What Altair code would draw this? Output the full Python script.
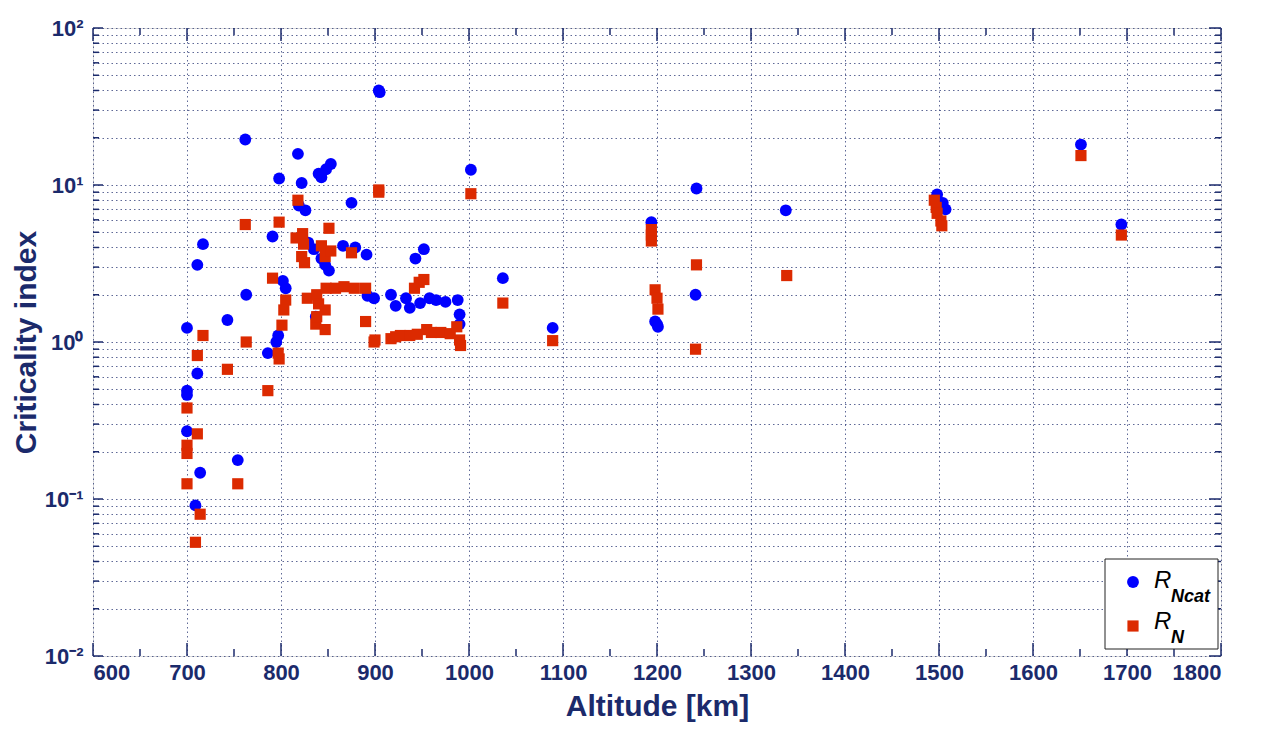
import altair as alt
import pandas as pd

# ---- data ----
alt_ncat = [700, 700, 700, 700, 709, 711, 711, 714, 717, 743, 754, 762, 763, 786, 791,
            795, 797, 798, 802, 805, 818, 819, 822, 826, 829, 837, 840, 843, 848, 853,
            835, 843, 847, 851, 866, 879, 875, 891, 892, 899, 904, 905, 917, 922, 933,
            937, 943, 952, 948, 958, 965, 975, 988, 990, 990, 1002, 1036, 1089, 1194,
            1198, 1200, 1201, 1241, 1242, 1337, 1498, 1504, 1507, 1651, 1694]
r_ncat = [1.23, 0.49, 0.46, 0.27, 0.091, 0.63, 3.1, 0.147, 4.2, 1.38, 0.177, 19.5, 2.0, 0.85, 4.7,
          1.0, 1.1, 11.0, 2.45, 2.2, 15.8, 7.4, 10.3, 6.9, 4.3, 1.45, 11.8, 11.2, 12.6, 13.6,
          3.9, 3.4, 3.1, 2.85, 4.1, 4.0, 7.7, 3.6, 1.97, 1.9, 40.0, 39.0, 2.0, 1.7, 1.9,
          1.65, 3.4, 3.9, 1.77, 1.9, 1.85, 1.8, 1.85, 1.5, 1.3, 12.5, 2.55, 1.23, 5.8,
          1.35, 1.3, 1.25, 2.0, 9.5, 6.9, 8.7, 7.7, 7.0, 18.1, 5.6]

alt_n = [700, 700, 700, 700, 709, 711, 711, 714, 717, 743, 754, 762, 763, 786, 791,
         797, 798, 798, 801, 803, 805, 816, 818, 823, 824, 822, 825, 828, 837, 838,
         838, 840, 843, 847, 847, 847, 848, 851, 853, 858, 867, 875, 878, 890, 890,
         899, 900, 904, 904, 917, 922, 927, 937, 942, 947, 952, 945, 955, 960, 970,
         980, 987, 990, 991, 1002, 1036, 1089, 1194, 1194, 1194, 1198, 1200, 1201, 1241,
         1242, 1338, 1495, 1497, 1498, 1502, 1503, 1651, 1694]
r_n = [0.38, 0.22, 0.195, 0.125, 0.053, 0.82, 0.26, 0.08, 1.1, 0.67, 0.125, 5.6, 1.0, 0.49, 2.55,
       0.85, 0.78, 5.8, 1.28, 1.6, 1.85, 4.6, 8.0, 4.9, 4.2, 3.5, 3.2, 1.9, 1.3, 1.45,
       2.0, 1.75, 4.1, 3.5, 1.6, 1.2, 2.2, 5.3, 3.8, 2.2, 2.25, 3.7, 2.2, 2.2, 1.35,
       1.0, 1.03, 9.3, 9.0, 1.05, 1.08, 1.1, 1.1, 2.2, 2.4, 2.5, 1.12, 1.2, 1.15, 1.15,
       1.13, 1.25, 1.03, 0.95, 8.8, 1.77, 1.02, 5.2, 4.8, 4.4, 2.15, 1.9, 1.62, 0.9,
       3.1, 2.65, 8.0, 7.2, 6.6, 5.9, 5.5, 15.4, 4.8]

x_major = [600, 700, 800, 900, 1000, 1100, 1200, 1300, 1400, 1500, 1600, 1700, 1800]
x_minor = [650, 750, 850, 950, 1050, 1150, 1250, 1350, 1450, 1550, 1650, 1750]
y_decades = [0.01, 0.1, 1, 10, 100]
y_minor = [round(k * 10.0 ** d, 4) for d in range(-2, 2) for k in range(2, 10)]

legend_labels = ["R", "Ncat", "R", "N"]

NAVY = "#1b2a6b"
BLUE = "#0000ff"
RED = "#dc2a00"
W, H = 1128, 628
FONT = "Liberation Sans"

df_ncat = pd.DataFrame({"alt": alt_ncat, "r": r_ncat})
df_n = pd.DataFrame({"alt": alt_n, "r": r_n})

xscale = alt.Scale(domain=[600, 1800], nice=False, zero=False)
yscale = alt.Scale(type="log", domain=[0.01, 100], nice=False)

common_axis = dict(
    gridDash=[1.5, 3], gridColor=NAVY, gridOpacity=0.7, gridWidth=1,
    ticks=False, domain=False,
    labelColor=NAVY, titleColor=NAVY, labelFont=FONT, titleFont=FONT,
    labelFontWeight="bold", titleFontWeight="bold",
    labelFontSize=22, labelOverlap=False,
)

xaxis = alt.Axis(values=x_major, title="Altitude [km]", grid=True, format="d",
                 labelPadding=6, titlePadding=8, titleFontSize=30, **common_axis)
yaxis = alt.Axis(values=sorted(y_decades + y_minor), title="Criticality index", grid=True,
                 labelExpr="datum.value == 100 ? '10²' : datum.value == 10 ? '10¹' : "
                           "datum.value == 1 ? '10⁰' : datum.value == 0.1 ? '10⁻¹' : "
                           "datum.value == 0.01 ? '10⁻²' : ''",
                 labelPadding=10, titlePadding=3, titleFontSize=30, **common_axis)


def X(field):
    return alt.X(field, type="quantitative", scale=xscale, axis=xaxis)


def Y(field):
    return alt.Y(field, type="quantitative", scale=yscale, axis=yaxis)


blue = alt.Chart(df_ncat).mark_point(shape="circle", filled=True, size=140, color=BLUE,
                                     opacity=1).encode(x=X("alt"), y=Y("r"))
red = alt.Chart(df_n).mark_point(shape="square", filled=True, size=125, color=RED,
                                 opacity=1).encode(x=X("alt"), y=Y("r"))

# inward ticks on all four sides
tick_style = dict(color=NAVY, strokeWidth=1.5)
ytm = pd.DataFrame({"v": y_decades})
ytn = pd.DataFrame({"v": y_minor})
xtm = pd.DataFrame({"v": x_major})
xtn = pd.DataFrame({"v": x_minor})

ticks = [
    alt.Chart(ytm).mark_rule(**tick_style).encode(y=Y("v"), x=alt.value(0), x2=alt.value(10)),
    alt.Chart(ytn).mark_rule(**tick_style).encode(y=Y("v"), x=alt.value(0), x2=alt.value(6)),
    alt.Chart(ytm).mark_rule(**tick_style).encode(y=Y("v"), x=alt.value(W - 12), x2=alt.value(W)),
    alt.Chart(ytn).mark_rule(**tick_style).encode(y=Y("v"), x=alt.value(W - 6), x2=alt.value(W)),
    alt.Chart(xtm).mark_rule(**tick_style).encode(x=X("v"), y=alt.value(H - 13), y2=alt.value(H)),
    alt.Chart(xtn).mark_rule(**tick_style).encode(x=X("v"), y=alt.value(H - 7), y2=alt.value(H)),
    alt.Chart(xtm).mark_rule(**tick_style).encode(x=X("v"), y=alt.value(0), y2=alt.value(13)),
    alt.Chart(xtn).mark_rule(**tick_style).encode(x=X("v"), y=alt.value(0), y2=alt.value(7)),
]

# legend (drawn by hand so that subscripts can be shown)
one = alt.Data(values=[{}])
leg_box = alt.Chart(one).mark_rect(fill="white", stroke="#222222", strokeWidth=1).encode(
    x=alt.value(1012), x2=alt.value(1125), y=alt.value(531), y2=alt.value(621))
leg_c = alt.Chart(one).mark_point(shape="circle", filled=True, size=140, color=BLUE,
                                  opacity=1).encode(x=alt.value(1040), y=alt.value(554))
leg_s = alt.Chart(one).mark_point(shape="square", filled=True, size=125, color=RED,
                                  opacity=1).encode(x=alt.value(1040), y=alt.value(598))
txt_main = dict(font=FONT, fontSize=24, fontStyle="italic", color="black",
                align="left", baseline="alphabetic")
txt_sub = dict(font=FONT, fontSize=18, fontStyle="italic", fontWeight="bold", color="black",
               align="left", baseline="alphabetic")
leg_t = [
    alt.Chart(one).mark_text(text=legend_labels[0], **txt_main).encode(x=alt.value(1061), y=alt.value(560)),
    alt.Chart(one).mark_text(text=legend_labels[1], **txt_sub).encode(x=alt.value(1078), y=alt.value(574)),
    alt.Chart(one).mark_text(text=legend_labels[2], **txt_main).encode(x=alt.value(1061), y=alt.value(601)),
    alt.Chart(one).mark_text(text=legend_labels[3], **txt_sub).encode(x=alt.value(1078), y=alt.value(615)),
]

chart = alt.layer(blue, red, *ticks, leg_box, leg_c, leg_s, *leg_t).properties(
    width=W, height=H,
    autosize=alt.AutoSizeParams(type="none"),
    padding={"left": 85, "top": 20, "right": 30, "bottom": 70},
).configure_view(stroke=NAVY, strokeWidth=1.5).configure(font=FONT)

chart.save("out.html", embed_options={"renderer": "svg", "actions": False})
